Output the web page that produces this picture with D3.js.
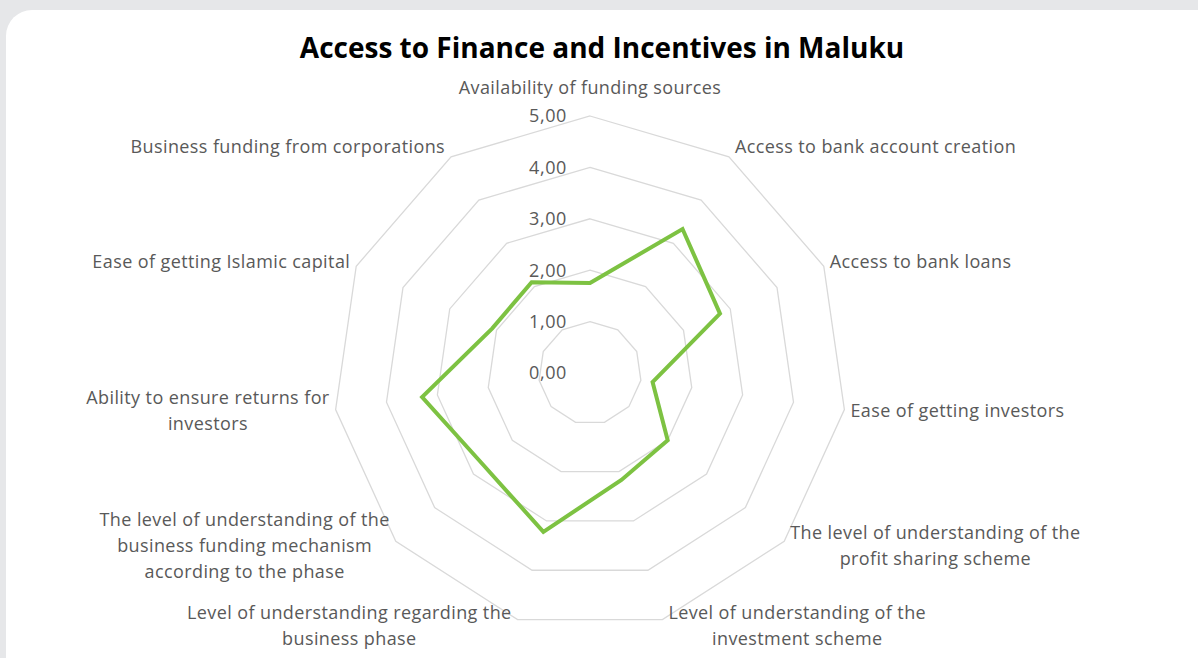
<!DOCTYPE html>
<html>
<head>
<meta charset="utf-8">
<script src="https://cdn.jsdelivr.net/npm/d3@7"></script>
<style>
  html, body { margin: 0; padding: 0; background: #e6e7e9; }
  #chart { width: 1198px; height: 658px; }
</style>
</head>
<body>
<div id="chart"></div>
<script>
const categories = [
    'Availability of funding sources',
    'Access to bank account creation',
    'Access to bank loans',
    'Ease of getting investors',
    'The level of understanding of the|profit sharing scheme',
    'Level of understanding of the|investment scheme',
    'Level of understanding regarding the|business phase',
    'The level of understanding of the|business funding mechanism|according to the phase',
    'Ability to ensure returns for|investors',
    'Ease of getting Islamic capital',
    'Business funding from corporations'
];
const values = [1.75, 3.33, 2.78, 1.23, 2.0, 2.17, 3.22, 2.74, 3.3, 2.09, 2.1];
const tickValues = [0, 1, 2, 3, 4, 5];
const tickLabels = ['0,00', '1,00', '2,00', '3,00', '4,00', '5,00'];

const width = 1198;
const height = 658;
const cx = 590, cy = 373, radius = 257;
const textColor = '#595959';
const font = '"Open Sans", "Noto Sans", sans-serif';

const svg = d3.select('#chart')
    .append('svg')
    .attr('width', width)
    .attr('height', height);

// white card
svg.append('rect')
    .attr('x', 6).attr('y', 10)
    .attr('width', 1220).attr('height', 680)
    .attr('rx', 26)
    .attr('fill', '#ffffff');

svg.append('text')
    .attr('x', 602)
    .attr('y', 58)
    .attr('text-anchor', 'middle')
    .attr('font-family', font)
    .attr('font-size', '28px')
    .attr('font-weight', 'bold')
    .attr('fill', '#000')
    .text('Access to Finance and Incentives in Maluku');

const r = d3.scaleLinear().domain([0, 5]).range([0, radius]);
const angle = d3.scaleLinear().domain([0, categories.length]).range([0, 2 * Math.PI]);

const g = svg.append('g').attr('transform', `translate(${cx},${cy})`);

// grid rings
const ring = d3.lineRadial()
    .angle((d, i) => angle(i))
    .radius(d => r(d))
    .curve(d3.curveLinearClosed);

g.selectAll('path.grid')
    .data(tickValues.slice(1))
    .enter()
    .append('path')
    .attr('class', 'grid')
    .attr('d', t => ring(categories.map(() => t)))
    .attr('fill', 'none')
    .attr('stroke', '#d9d9d9')
    .attr('stroke-width', 1.3);

// tick labels
g.selectAll('text.tick')
    .data(tickValues)
    .enter()
    .append('text')
    .attr('class', 'tick')
    .attr('x', -23)
    .attr('y', t => -r(t))
    .attr('dy', '0.35em')
    .attr('text-anchor', 'end')
    .attr('font-family', font)
    .attr('font-size', '18px')
    .attr('letter-spacing', '0.6px')
    .attr('fill', textColor)
    .text((t, i) => tickLabels[i]);

// data series
g.append('path')
    .datum(values)
    .attr('d', ring)
    .attr('fill', 'none')
    .attr('stroke', '#7dc242')
    .attr('stroke-width', 4)
    .attr('stroke-linejoin', 'miter');

// category labels
const lineH = 26;
categories.forEach((c, i) => {
    const a = angle(i);
    const s = Math.sin(a), co = Math.cos(a);
    const vx = r(5) * s, vy = -r(5) * co;
    const lines = c.split('|');
    const t = g.append('text')
        .attr('font-family', font)
        .attr('font-size', '18px')
        .attr('letter-spacing', '0.4px')
        .attr('fill', textColor);
    lines.forEach(l => t.append('tspan').text(l));
    const tspans = t.selectAll('tspan');
    const widths = tspans.nodes().map(n => n.getComputedTextLength());
    const w = d3.max(widths);
    let x0;
    if (Math.abs(s) < 0.1) x0 = vx - w / 2;
    else if (s > 0) x0 = vx + 6;
    else x0 = vx - 6 - w;
    let yc;
    if (Math.abs(s) < 0.1) yc = vy - 28;
    else yc = vy - co * (co > 0 ? 12 : 6);
    const top = yc - (lines.length - 1) * lineH / 2;
    tspans
        .attr('x', (d, j) => x0 + w / 2)
        .attr('y', (d, j) => top + j * lineH)
        .attr('dy', '0.35em')
        .attr('text-anchor', 'middle');
});
</script>
</body>
</html>
